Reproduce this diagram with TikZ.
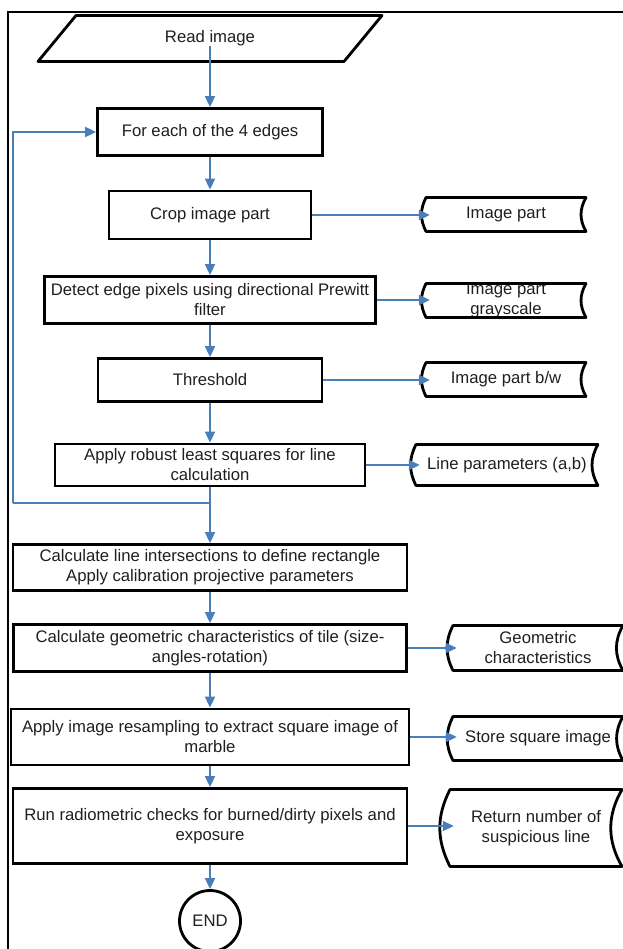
\documentclass[tikz,border=0pt]{standalone}
\usepackage{fontspec}
\setmainfont{Liberation Sans}
\usetikzlibrary{arrows.meta}
\definecolor{flowblue}{RGB}{74,126,187}
\newcommand{\storeshape}[3]{\draw [store line] ([shift={(-#2,-#3)}]#1.center) to[bend right=27] ([shift={(-#2,#3)}]#1.center) -- ([shift={(#2,#3)}]#1.center) to[bend left=30] ([shift={(#2,-#3)}]#1.center) -- cycle;}
\begin{document}
\begin{tikzpicture}[x=1pt,y=-1pt,
		every node/.style={inner sep=0pt, align=center, text=black!88, font=\fontsize{16.7}{20}\selectfont},
		box/.style={draw=black, line width=2.8pt},
		store/.style={draw=none, minimum width=160pt, minimum height=34pt},
		store line/.style={draw=black, line width=2.8pt, line join=round},
		endmark/.style={draw=black, line width=2.8pt, circle, minimum size=61pt},
		flow/.style={draw=flowblue, line width=1.8pt, -{Triangle[length=11pt,width=10pt]}},
		to store/.style={flow, shorten >=-4pt},
		flow line/.style={draw=flowblue, line width=1.8pt}]
		\useasboundingbox (0,0) rectangle (622,949);
		\draw [black, line width=2pt] (8,960) -- (8,12) -- (630,12);
		\node (read) at (210,38.5) {Read image};
		\draw [store line] ([shift={(-134,-23)}]read.center) -- ([shift={(172,-23)}]read.center) -- ([shift={(134,23)}]read.center) -- ([shift={(-172,23)}]read.center) -- cycle;
		\node [box, minimum width=225pt, minimum height=47pt] (each) at (210,132) {For each of the 4 edges};
		\node [box, minimum width=202pt, minimum height=48pt] (crop) at (210,215) {Crop image part};
		\node [box, minimum width=331pt, minimum height=47pt] (detect) at (210,300) {Detect edge pixels using directional Prewitt\\filter};
		\node [box, minimum width=224pt, minimum height=43pt] (thresh) at (210,380) {Threshold};
		\node [box, minimum width=310pt, minimum height=42pt] (robust) at (210,465) {Apply robust least squares for line\\calculation};
		\node [box, minimum width=394pt, minimum height=46pt] (inter) at (210,567.5) {Calculate line intersections to define rectangle\\Apply calibration projective parameters};
		\node [box, minimum width=393pt, minimum height=47pt] (geom) at (210,648) {Calculate geometric characteristics of tile (size-\\angles-rotation)};
		\node [box, minimum width=398pt, minimum height=56pt] (resamp) at (210,737) {Apply image resampling to extract square image of\\marble};
		\node [box, minimum width=394pt, minimum height=75pt] (radio) at (210,826) {Run radiometric checks for burned/dirty pixels and\\exposure};
		\node [endmark] (end) at (210,921) {END};
		\node [store] (part) at (506,214.5) {Image part};
		\storeshape{part}{80}{17}
		\node [store] (gray) at (506,300.5) {Image part\\grayscale};
		\storeshape{gray}{80}{17}
		\node [store] (bw) at (506,379.5) {Image part b/w};
		\storeshape{bw}{80}{17}
		\node [store, minimum width=182pt, minimum height=41pt] (lineab) at (507,465) {Line parameters (a,b)};
		\storeshape{lineab}{91}{20.5}
		\node [store, minimum width=170pt, minimum height=45pt] (geomc) at (538,648) {Geometric\\characteristics};
		\storeshape{geomc}{85}{22.5}
		\node [store, minimum width=170pt, minimum height=44pt] (sqimg) at (538,738.5) {Store square image};
		\storeshape{sqimg}{85}{22}
		\node [store, minimum width=172pt, minimum height=77pt] (ret) at (536,828) {Return number of\\suspicious line};
		\storeshape{ret}{86}{38.5}
		\coordinate (fork) at (210,503);
		\coordinate (turn) at (13,503);
		\draw [flow] (read.south) -- (each.north);
		\draw [flow] (each.south) -- (crop.north);
		\draw [flow] (crop.south) -- (detect.north);
		\draw [flow] (detect.south) -- (thresh.north);
		\draw [flow] (thresh.south) -- (robust.north);
		\draw [flow] (robust.south) -- (inter.north);
		\draw [flow line] (fork) -- (turn);
		\draw [flow] (turn) |- (each.west);
		\draw [flow] (inter.south) -- (geom.north);
		\draw [flow] (geom.south) -- (resamp.north);
		\draw [flow] (resamp.south) -- (radio.north);
		\draw [flow] (radio.south) -- (end.north);
		\draw [to store] (crop.east) -- (crop.east -| part.west);
		\draw [to store] (detect.east) -- (detect.east -| gray.west);
		\draw [to store] (thresh.east) -- (thresh.east -| bw.west);
		\draw [to store] (robust.east) -- (robust.east -| lineab.west);
		\draw [to store] (geom.east) -- (geom.east -| geomc.west);
		\draw [to store] (resamp.east) -- (resamp.east -| sqimg.west);
		\draw [to store] (radio.east) -- (radio.east -| ret.west);
	\end{tikzpicture}
\end{document}
